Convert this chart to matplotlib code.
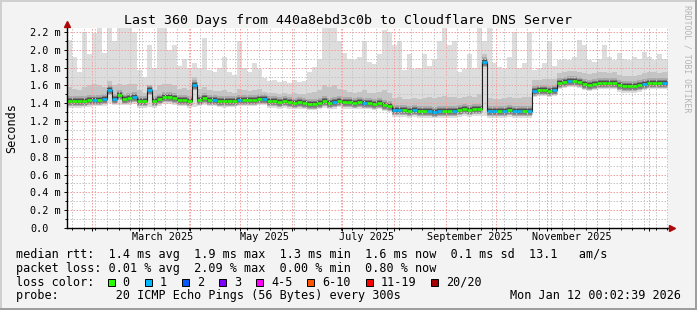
import numpy as np
import matplotlib
matplotlib.use('Agg')
import matplotlib.pyplot as plt
import matplotlib.dates as mdates
from matplotlib.ticker import MultipleLocator, FuncFormatter, NullFormatter
from matplotlib.patches import Rectangle

W, H = 697, 310

title = 'Last 360 Days from 440a8ebd3c0b to Cloudflare DNS Server'
start = np.datetime64('2025-01-17T00:02:39')
end = np.datetime64('2026-01-12T00:02:39')
step_days = 3

# median rtt in ms, one value per 3 days
median_ms = [
    1.43, 1.43, 1.42, 1.43, 1.44, 1.44, 1.44, 1.45, 1.55, 1.45,
    1.49, 1.45, 1.46, 1.47, 1.42, 1.42, 1.55, 1.42, 1.45, 1.47,
    1.47, 1.46, 1.44, 1.44, 1.42, 1.60, 1.44, 1.46, 1.44, 1.44,
    1.43, 1.42, 1.43, 1.43, 1.44, 1.44, 1.44, 1.44, 1.45, 1.45,
    1.42, 1.42, 1.41, 1.42, 1.41, 1.40, 1.41, 1.40, 1.39, 1.39,
    1.40, 1.43, 1.40, 1.41, 1.43, 1.41, 1.41, 1.40, 1.41, 1.40,
    1.40, 1.39, 1.40, 1.38, 1.37, 1.32, 1.32, 1.32, 1.31, 1.32,
    1.31, 1.31, 1.31, 1.30, 1.31, 1.31, 1.31, 1.31, 1.32, 1.33,
    1.32, 1.33, 1.33, 1.86, 1.31, 1.31, 1.31, 1.31, 1.32, 1.31,
    1.31, 1.31, 1.31, 1.54, 1.55, 1.55, 1.54, 1.55, 1.63, 1.64,
    1.65, 1.65, 1.64, 1.62, 1.61, 1.62, 1.63, 1.63, 1.63, 1.63,
    1.60, 1.59, 1.59, 1.59, 1.60, 1.62, 1.63, 1.63, 1.63, 1.63,
]

# lost pings (out of 20) for each value
loss = [
    0, 0, 0, 0, 0, 1, 0, 1, 1, 1,
    0, 0, 0, 1, 0, 0, 1, 0, 0, 0,
    0, 0, 0, 0, 0, 1, 0, 0, 0, 1,
    0, 0, 0, 0, 1, 0, 0, 0, 0, 1,
    0, 0, 0, 0, 0, 0, 0, 0, 0, 0,
    0, 0, 0, 1, 0, 0, 0, 0, 0, 1,
    0, 0, 0, 0, 0, 1, 1, 0, 0, 1,
    0, 0, 1, 1, 1, 0, 0, 1, 0, 0,
    0, 0, 0, 1, 1, 1, 0, 1, 0, 1,
    1, 0, 1, 1, 0, 0, 0, 1, 0, 0,
    1, 0, 0, 0, 0, 0, 0, 0, 0, 0,
    0, 0, 0, 0, 0, 1, 0, 0, 0, 1,
]

# smoke: fastest ping, upper dense part, slowest ping (ms)
smoke_low = [
    1.35, 1.35, 1.35, 1.36, 1.36, 1.37, 1.37, 1.37, 1.40, 1.38,
    1.38, 1.38, 1.38, 1.39, 1.35, 1.35, 1.36, 1.35, 1.37, 1.39,
    1.39, 1.38, 1.37, 1.37, 1.35, 1.36, 1.37, 1.38, 1.37, 1.37,
    1.36, 1.35, 1.36, 1.36, 1.37, 1.37, 1.37, 1.37, 1.38, 1.38,
    1.35, 1.35, 1.34, 1.35, 1.34, 1.33, 1.34, 1.33, 1.32, 1.32,
    1.33, 1.35, 1.33, 1.34, 1.36, 1.34, 1.34, 1.33, 1.34, 1.33,
    1.33, 1.32, 1.33, 1.31, 1.30, 1.25, 1.25, 1.25, 1.24, 1.25,
    1.24, 1.24, 1.24, 1.23, 1.24, 1.24, 1.24, 1.24, 1.25, 1.26,
    1.25, 1.26, 1.26, 1.26, 1.24, 1.24, 1.24, 1.24, 1.25, 1.24,
    1.24, 1.24, 1.24, 1.47, 1.48, 1.48, 1.47, 1.48, 1.56, 1.57,
    1.58, 1.58, 1.57, 1.55, 1.54, 1.55, 1.56, 1.56, 1.56, 1.56,
    1.53, 1.52, 1.52, 1.52, 1.53, 1.55, 1.56, 1.56, 1.56, 1.56,
]
smoke_mid = [
    1.58, 1.56, 1.55, 1.58, 1.60, 1.62, 1.60, 1.58, 1.65, 1.60,
    1.62, 1.60, 1.62, 1.62, 1.55, 1.52, 1.60, 1.55, 1.60, 1.62,
    1.62, 1.60, 1.56, 1.57, 1.55, 1.70, 1.56, 1.58, 1.55, 1.54,
    1.54, 1.55, 1.53, 1.52, 1.56, 1.55, 1.54, 1.55, 1.56, 1.53,
    1.51, 1.52, 1.50, 1.51, 1.50, 1.51, 1.50, 1.50, 1.52, 1.53,
    1.55, 1.60, 1.58, 1.60, 1.56, 1.55, 1.53, 1.52, 1.53, 1.55,
    1.52, 1.51, 1.53, 1.55, 1.52, 1.46, 1.47, 1.45, 1.45, 1.46,
    1.45, 1.46, 1.47, 1.46, 1.47, 1.48, 1.47, 1.47, 1.46, 1.47,
    1.48, 1.47, 1.50, 1.95, 1.46, 1.45, 1.45, 1.46, 1.47, 1.46,
    1.46, 1.47, 1.47, 1.66, 1.66, 1.67, 1.67, 1.67, 1.74, 1.75,
    1.76, 1.76, 1.75, 1.74, 1.73, 1.74, 1.75, 1.75, 1.74, 1.75,
    1.72, 1.71, 1.71, 1.71, 1.72, 1.74, 1.75, 1.75, 1.74, 1.75,
]
smoke_top = [
    2.11, 1.92, 1.75, 2.20, 1.95, 2.19, 2.25, 1.96, 2.25, 2.10,
    2.25, 2.25, 2.25, 2.20, 1.77, 1.70, 2.05, 1.80, 2.25, 2.25,
    2.00, 2.05, 1.82, 1.90, 1.80, 1.85, 1.80, 2.13, 1.77, 1.75,
    1.80, 1.92, 1.75, 1.72, 2.10, 1.80, 1.75, 1.85, 1.78, 1.68,
    1.65, 1.66, 1.64, 1.65, 1.63, 1.66, 1.64, 1.65, 1.75, 1.81,
    1.90, 2.25, 2.25, 2.25, 2.10, 1.96, 1.90, 1.88, 1.92, 2.10,
    1.86, 1.84, 1.95, 2.22, 2.20, 2.05, 2.10, 1.77, 1.95, 1.78,
    1.80, 1.95, 1.82, 1.90, 2.10, 2.25, 2.05, 2.10, 1.75, 1.78,
    1.95, 1.80, 2.25, 2.10, 2.25, 1.85, 1.81, 1.78, 1.92, 2.20,
    1.80, 1.85, 2.20, 1.77, 1.80, 1.85, 2.10, 1.82, 1.88, 1.90,
    1.88, 1.92, 2.11, 2.05, 1.88, 1.86, 1.90, 2.05, 1.92, 1.88,
    1.96, 1.90, 1.88, 1.92, 1.90, 1.98, 1.92, 1.88, 1.95, 1.90,
]

label_dates = np.array(['2025-03-15T12:00', '2025-05-15T12:00', '2025-07-15T12:00',
                        '2025-09-15T12:00', '2025-11-15T12:00'], dtype='datetime64[m]')
label_texts = ['March 2025', 'May 2025', 'July 2025', 'September 2025', 'November 2025']

loss_labels = ['0', '1', '2', '3', '4-5', '6-10', '11-19', '20/20']
loss_colors = ['#26ff00', '#00b8ff', '#0059ff', '#7e00ff', '#ff00ff', '#ff5500', '#ff0000', '#a10000']

legend_rtt = 'median rtt:  1.4 ms avg  1.9 ms max  1.3 ms min  1.6 ms now  0.1 ms sd  13.1   am/s'
legend_loss = 'packet loss: 0.01 % avg  2.09 % max  0.00 % min  0.80 % now'
legend_probe = 'probe:        20 ICMP Echo Pings (56 Bytes) every 300s'
stamp = 'Mon Jan 12 00:02:39 2026'


def fx(x):
    return x / W


def fy(y):
    return 1 - y / H


def ext(a):
    return np.append(a, a[-1])


plt.rcParams['font.family'] = 'DejaVu Sans Mono'
MONO = 'DejaVu Sans Mono'

fig = plt.figure(figsize=(W / 100, H / 100), dpi=100, facecolor='#f3f3f3')
ax = fig.add_axes([fx(67), fy(228), 600.5 / W, 200.5 / H])
ax.set_facecolor('white')

edges = start + np.arange(len(median_ms) + 1) * np.timedelta64(step_days, 'D')
t = mdates.date2num(edges)
med = np.array(median_ms)

# smoke
ax.fill_between(t, ext(smoke_low), ext(smoke_top), step='post', color='#dddddd', lw=0, zorder=1)
ax.fill_between(t, ext(med), ext(smoke_mid), step='post', color='#c4c4c4', lw=0, zorder=1.1)
ax.hlines(med, t[:-1], t[1:], colors='#a8a8a8', lw=7.0, zorder=1.15)
ax.hlines(med, t[:-1], t[1:], colors='#888888', lw=5.0, zorder=1.2)
ax.hlines(med, t[:-1], t[1:], colors='#4e4e4e', lw=3.2, zorder=1.3)

# median line, coloured by loss
ax.step(t, ext(med), where='post', color='#202020', lw=0.8, zorder=3)
ax.hlines(med, t[:-1], t[1:], colors=[loss_colors[l] for l in loss], lw=1.9, zorder=4)

ax.set_xlim(mdates.date2num(start), mdates.date2num(end))
ax.set_ylim(0, 2.25)

ax.xaxis.set_major_locator(mdates.MonthLocator())
ax.xaxis.set_minor_locator(mdates.WeekdayLocator(byweekday=mdates.MO))
ax.xaxis.set_major_formatter(NullFormatter())
ax.xaxis.set_minor_formatter(NullFormatter())
ax.yaxis.set_major_locator(MultipleLocator(0.2))
ax.yaxis.set_minor_locator(MultipleLocator(0.1))
ax.yaxis.set_major_formatter(FuncFormatter(lambda v, p: '0.0' if abs(v) < 1e-9 else f'{v:.1f} m'))

ax.set_axisbelow(False)
ax.grid(which='minor', color='#c6c6c6', lw=0.72, ls=(0, (1.5, 1.5)), zorder=2)
ax.grid(which='major', color='#f3a0a0', lw=0.72, ls=(0, (1.5, 1.5)), zorder=2)

for s in ['top', 'right']:
    ax.spines[s].set_visible(False)
for s in ['left', 'bottom']:
    ax.spines[s].set_color('black')
    ax.spines[s].set_linewidth(1.0)
    ax.spines[s].set_zorder(5)

ax.tick_params(which='major', direction='out', length=2.5, width=0.7, color='black')
ax.tick_params(which='minor', direction='out', length=1.5, width=0.7, color='black')
ax.tick_params(axis='y', which='major', labelsize=7.3, pad=24)
plt.setp(ax.get_yticklabels(), ha='left')

secax = ax.secondary_xaxis('bottom')
secax.set_xticks(mdates.date2num(label_dates), labels=label_texts)
secax.tick_params(length=0, pad=9, labelsize=7.3)
secax.spines['bottom'].set_visible(False)
plt.setp(secax.get_xticklabels(), va='baseline')

ax.set_ylabel('Seconds', fontsize=8.5, va='center')
ax.yaxis.set_label_coords((11.5 - 67) / 600.5, 0.5)

# axis arrows
arrow_c = '#ad0707'
ax.plot([0], [1 + 3.5 / 200.5], marker='^', ms=4.2, color=arrow_c, transform=ax.transAxes,
        clip_on=False, zorder=6)
ax.plot([1 + 4.5 / 600.5], [0], marker='>', ms=4.2, color=arrow_c, transform=ax.transAxes,
        clip_on=False, zorder=6)

fig.text(fx(348.5), fy(24), title, ha='center', va='baseline', fontsize=9.55, family=MONO)
fig.text(fx(687.5), fy(59), 'RRDTOOL / TOBI OETIKER', rotation=-90, ha='center', va='center',
         fontsize=5.9, color='#b4b4b4', family=MONO)

# legend rows
fig.text(fx(15.5), fy(258), legend_rtt, va='baseline', fontsize=8.5, family=MONO)
fig.text(fx(15.5), fy(271.8), legend_loss, va='baseline', fontsize=8.5, family=MONO)
fig.text(fx(15.5), fy(285.6), 'loss color:', va='baseline', fontsize=8.5, family=MONO)
fig.text(fx(15.5), fy(299.4), legend_probe, va='baseline', fontsize=8.5, family=MONO)
fig.text(fx(680.5), fy(299.4), stamp, ha='right', va='baseline', fontsize=8.5, family=MONO)

char_w = 7.12
bx = 107.5
for lab, col in zip(loss_labels, loss_colors):
    fig.patches.append(Rectangle((fx(bx), fy(286)), 7 / W, 7 / H, transform=fig.transFigure,
                                 facecolor=col, edgecolor='black', lw=0.7))
    tx = bx + 15.0
    fig.text(fx(tx), fy(285.6), lab, va='baseline', fontsize=8.5, family=MONO)
    bx = tx + len(lab) * char_w + 15.0

# 3d frame
fig.patches.append(Rectangle((0, 0), 1, 2 / H, transform=fig.transFigure, color='#9e9e9e', lw=0))
fig.patches.append(Rectangle((1 - 2 / W, 0), 2 / W, 1, transform=fig.transFigure, color='#9e9e9e', lw=0))
fig.patches.append(Rectangle((0, 1 - 2 / H), 1 - 2 / W, 2 / H, transform=fig.transFigure, color='#cfcfcf', lw=0))
fig.patches.append(Rectangle((0, 2 / H), 2 / W, 1 - 2 / H, transform=fig.transFigure, color='#cfcfcf', lw=0))

fig.savefig('out.png', dpi=100, facecolor=fig.get_facecolor())
